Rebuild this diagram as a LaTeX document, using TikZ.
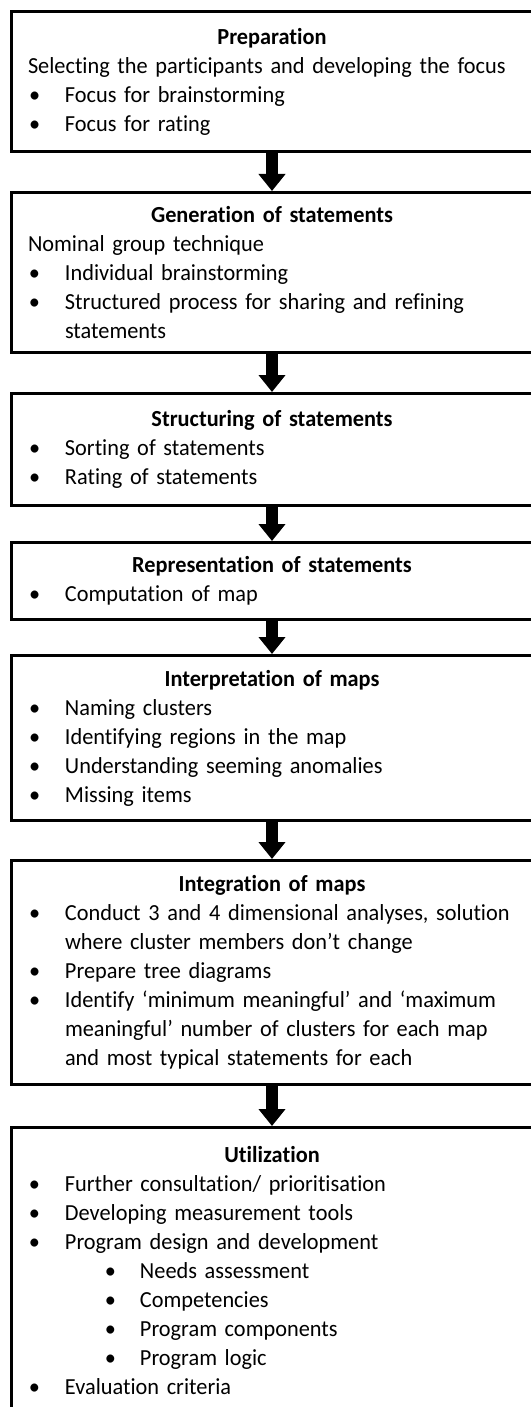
\documentclass[tikz,border=0pt]{standalone}
\usepackage{fontspec}
\setmainfont{Carlito}[Ligatures=CommonOff,FakeStretch=0.97]
\usetikzlibrary{arrows.meta,positioning}
\newcommand{\stagetitle}[1]{\makebox[\linewidth]{\textbf{#1}}}
\newcommand{\bitem}[1]{\mbox{\makebox[18.5pt][l]{\hspace{0.5pt}\textbullet}#1}}
\newcommand{\sbitem}[1]{\mbox{\hspace*{38.5pt}\makebox[17.5pt][l]{\textbullet}#1}}
\newcommand{\bcont}[1]{\mbox{\hspace*{18.5pt}#1}}

\begin{document}
\begin{tikzpicture}[
  x=0.5pt,y=-0.5pt,
  box/.style={draw=black,line width=1.5pt,fill=white,anchor=north,align=left,
    text width=244pt,inner xsep=8.5pt,inner ysep=2pt,
    font=\fontsize{11.5}{14.5}\selectfont},
  flow/.style={-{Triangle[length=8.5pt,width=13pt]},draw=black,line width=6pt}
]
\fill[white] (0,0) rectangle (530,1407);
\useasboundingbox (0,0) rectangle (530,1407);

\node[box,minimum height=70pt] (prep) at (272,10) {
  \stagetitle{Preparation}\\
  \mbox{Selecting the participants and developing the focus}\\
  \bitem{Focus for brainstorming}\\
  \bitem{Focus for rating}
};
\node[box,minimum height=80pt] (gen) at (272,191) {
  \stagetitle{Generation of statements}\\
  Nominal group technique\\
  \bitem{Individual brainstorming}\\
  \bitem{Structured process for sharing and refining}\\
  \bcont{statements}
};
\node[box,minimum height=56pt] (struct) at (272,392) {
  \stagetitle{Structuring of statements}\\
  \bitem{Sorting of statements}\\
  \bitem{Rating of statements}
};
\node[box,minimum height=38.5pt] (repr) at (272,541) {
  \stagetitle{Representation of statements}\\
  \bitem{Computation of map}
};
\node[box,minimum height=82.5pt] (interp) at (272,654) {
  \stagetitle{Interpretation of maps}\\
  \bitem{Naming clusters}\\
  \bitem{Identifying regions in the map}\\
  \bitem{Understanding seeming anomalies}\\
  \bitem{Missing items}
};
\node[box,minimum height=112pt] (integ) at (272,859) {
  \stagetitle{Integration of maps}\\
  \bitem{Conduct 3 and 4 dimensional analyses, solution}\\
  \bcont{where cluster members don’t change}\\
  \bitem{Prepare tree diagrams}\\
  \bitem{Identify ‘minimum meaningful’ and ‘maximum}\\
  \bcont{meaningful’ number of clusters for each map}\\
  \bcont{and most typical statements for each}
};
\node[box,minimum height=143.5pt] (util) at (272,1126) {
  \stagetitle{Utilization}\\
  \bitem{Further consultation/ prioritisation}\\
  \bitem{Developing measurement tools}\\
  \bitem{Program design and development}\\
  \sbitem{Needs assessment}\\
  \sbitem{Competencies}\\
  \sbitem{Program components}\\
  \sbitem{Program logic}\\
  \bitem{Evaluation criteria}
};

\draw[flow] (prep.south) -- (gen.north);
\draw[flow] (gen.south) -- (struct.north);
\draw[flow] (struct.south) -- (repr.north);
\draw[flow] (repr.south) -- (interp.north);
\draw[flow] (interp.south) -- (integ.north);
\draw[flow] (integ.south) -- (util.north);
\end{tikzpicture}
\end{document}
